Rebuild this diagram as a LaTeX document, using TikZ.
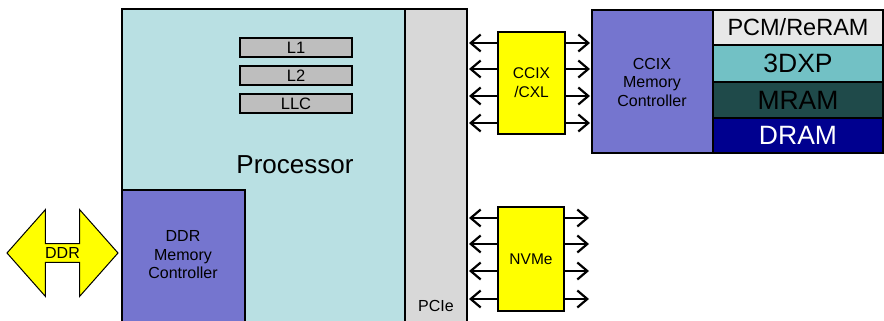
\documentclass[tikz,border=0pt]{standalone}
\usepackage{fontspec}
\setmainfont{Liberation Sans}
\usetikzlibrary{arrows.meta,shapes.arrows}
\definecolor{procfill}{HTML}{B9E0E3}
\definecolor{pciefill}{HTML}{D8D8D8}
\definecolor{mcfill}{HTML}{7575CF}
\definecolor{cachefill}{HTML}{BEBEBE}
\definecolor{busfill}{HTML}{FFFF00}
\definecolor{pcmfill}{HTML}{E8E8E8}
\definecolor{xpfill}{HTML}{72C1C5}
\definecolor{mramfill}{HTML}{1F4A4A}
\definecolor{dramfill}{HTML}{00008F}
\tikzset{
  x=1pt, y=-1pt,
  box/.style={draw=black, line width=1.4pt, inner sep=0pt, outer sep=0pt},
  cachebox/.style={box, fill=cachefill, font=\fontsize{16.5}{18}\selectfont},
  busbox/.style={box, fill=busfill, font=\fontsize{15.5}{19}\selectfont, align=center},
  memcell/.style={box, font=\fontsize{26.5}{28}\selectfont},
  link/.style={line width=1.7pt, -{Straight Barb[length=10pt,width=17pt,line width=2.2pt]}},
  lbl/.style={font=\fontsize{16}{18.5}\selectfont, align=center}
}
\begin{document}
\begin{tikzpicture}
\useasboundingbox (0,0) rectangle (884,321);
\clip (0,0) rectangle (884,321);

% processor die and its PCIe strip
\node[box, fill=procfill, minimum width=283pt, minimum height=320pt, anchor=north west] (proc) at (122,9) {};
\node[box, fill=pciefill, minimum width=62pt, minimum height=320pt, anchor=north west] (pcie) at (405,9) {};
\node[lbl, anchor=base] (pcielbl) at (436,311) {PCIe};
\node[font=\fontsize{26}{30}\selectfont] (proclbl) at (295,165) {Processor};

% caches
\node[cachebox, minimum width=112pt, minimum height=19pt, anchor=north west] (l1) at (240,38) {L1};
\node[cachebox, minimum width=112pt, minimum height=19pt, anchor=north west] (l2) at (240,66) {L2};
\node[cachebox, minimum width=112pt, minimum height=19pt, anchor=north west] (llc) at (240,94) {LLC};

% on-die DDR memory controller
\node[box, fill=mcfill, minimum width=123pt, minimum height=140pt, anchor=north west] (ddrmc) at (122,190) {};
\node[lbl, text width=110pt] (ddrmclbl) at (183,255) {DDR\\Memory\\Controller};

% DDR bus
\node[double arrow, draw=black, line width=1pt, fill=busfill, minimum width=87pt,
      double arrow head extend=22pt, double arrow tip angle=97, minimum height=111pt,
      inner sep=0pt, font=\fontsize{16}{18}\selectfont] (ddr) at (62.5,253) {DDR};

% CCIX / CXL bridge
\node[busbox, minimum width=67pt, minimum height=102pt, anchor=north west] (ccix) at (498,32) {CCIX\\/CXL};
% NVMe bridge
\node[busbox, minimum width=66pt, minimum height=104pt, anchor=north west] (nvme) at (498,207) {NVMe};

% CCIX memory controller and memory stack
\node[box, fill=mcfill, minimum width=121pt, minimum height=143pt, anchor=north west] (ccixmc) at (592,10) {};
\node[lbl, text width=110pt] (ccixmclbl) at (652,82) {CCIX\\Memory\\Controller};
\node[memcell, fill=pcmfill, font=\fontsize{23.5}{26}\selectfont, minimum width=170pt, minimum height=35pt, anchor=north west] (pcm) at (713,10) {PCM/ReRAM};
\node[memcell, fill=xpfill, minimum width=170pt, minimum height=37pt, anchor=north west] (xp) at (713,45) {3DXP};
\node[memcell, fill=mramfill, minimum width=170pt, minimum height=36pt, anchor=north west] (mram) at (713,82) {MRAM};
\node[memcell, fill=dramfill, text=white, minimum width=170pt, minimum height=35pt, anchor=north west] (dram) at (713,118) {DRAM};

% links on both sides of the bridges
\foreach \yy [count=\i] in {43,69,96,123} {
  \coordinate (cl\i) at (ccix.west |- 0,\yy);
  \coordinate (cr\i) at (ccix.east |- 0,\yy);
  \coordinate (pl\i) at (pcie.east |- 0,\yy);
  \coordinate (ml\i) at (ccixmc.west |- 0,\yy);
  \draw[link] (cl\i) -- ([xshift=2pt]pl\i);
  \draw[link] (cr\i) -- ([xshift=-2pt]ml\i);
}
\foreach \yy [count=\i] in {218,244,271,299} {
  \coordinate (nl\i) at (nvme.west |- 0,\yy);
  \coordinate (nr\i) at (nvme.east |- 0,\yy);
  \coordinate (ql\i) at (pcie.east |- 0,\yy);
  \coordinate (qr\i) at (589,\yy);
  \draw[link] (nl\i) -- ([xshift=2pt]ql\i);
  \draw[link] (nr\i) -- (qr\i);
}
\end{tikzpicture}
\end{document}
